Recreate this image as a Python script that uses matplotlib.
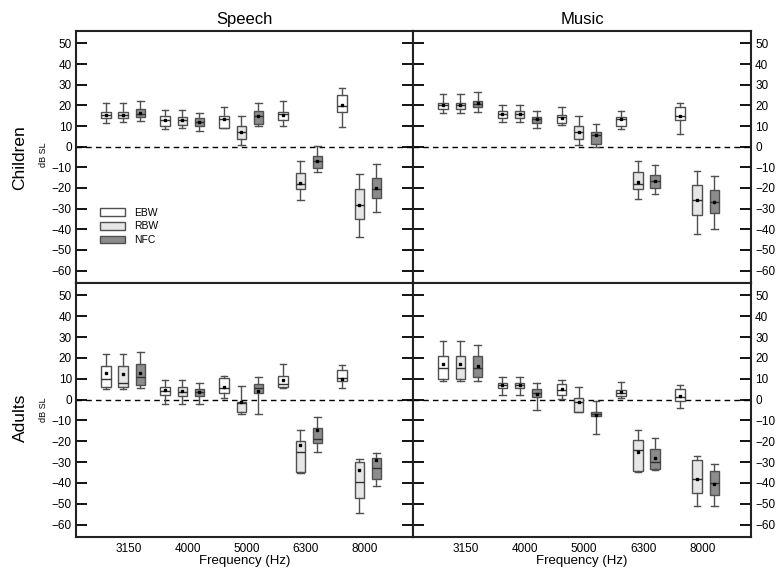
import matplotlib
matplotlib.use('Agg')
import matplotlib.pyplot as plt
from matplotlib.patches import Patch

plt.rcParams['font.family'] = ['Liberation Sans', 'DejaVu Sans']

frequencies = ['3150', '4000', '5000', '6300', '8000']
conditions = ['EBW', 'RBW', 'NFC']
box_colors = ['white', '#e6e6e6', '#8c8c8c']

# each row: whisker low, q1, median, q3, whisker high, mean
# order: for each frequency EBW, RBW, NFC
speech_children = [
    [11.5, 14.0, 15.5, 17.0, 21.0, 15.5],
    [12.0, 14.0, 15.5, 17.0, 21.0, 15.5],
    [12.5, 14.5, 16.0, 18.0, 22.0, 16.5],
    [8.7, 10.0, 13.0, 14.8, 17.7, 13.0],
    [9.0, 10.5, 13.0, 14.5, 17.7, 13.0],
    [7.5, 10.0, 12.0, 13.7, 16.5, 12.0],
    [9.2, 9.2, 13.5, 15.0, 19.0, 13.5],
    [1.0, 3.5, 7.0, 10.0, 15.0, 7.0],
    [10.1, 10.8, 15.0, 17.2, 21.0, 15.0],
    [10.0, 13.0, 16.0, 17.0, 22.0, 15.5],
    [-26.0, -20.3, -18.0, -12.6, -7.0, -17.5],
    [-12.5, -10.5, -7.0, -4.7, 0.5, -7.0],
    [9.5, 17.0, 19.5, 25.0, 28.5, 20.0],
    [-43.5, -35.0, -28.0, -20.5, -13.0, -28.0],
    [-31.5, -25.0, -20.5, -15.0, -8.5, -20.0],
]

speech_adults = [
    [5.0, 6.0, 10.0, 16.0, 22.0, 12.8],
    [5.0, 6.0, 8.0, 16.0, 22.0, 12.2],
    [5.5, 7.0, 11.0, 17.0, 23.0, 13.0],
    [-2.0, 2.2, 4.3, 6.2, 9.4, 4.5],
    [-2.0, 1.5, 3.8, 6.2, 9.4, 4.0],
    [-2.0, 1.5, 3.5, 5.0, 8.0, 3.5],
    [1.0, 3.0, 5.7, 10.2, 11.5, 6.0],
    [-6.7, -6.2, -1.5, -1.0, 6.7, -1.0],
    [-7.0, 3.4, 5.4, 7.3, 11.0, 4.0],
    [5.7, 5.9, 7.5, 11.5, 17.0, 9.5],
    [-35.4, -34.9, -25.0, -20.0, -14.5, -22.0],
    [-25.0, -21.0, -19.0, -13.6, -8.3, -14.5],
    [5.7, 9.0, 10.5, 14.4, 16.5, 9.7],
    [-54.5, -47.4, -39.5, -30.0, -28.4, -34.0],
    [-41.6, -38.0, -33.0, -28.0, -25.5, -29.0],
]

music_children = [
    [16.2, 18.3, 20.0, 21.2, 25.7, 20.0],
    [16.2, 18.3, 20.3, 21.2, 25.7, 20.3],
    [16.7, 19.0, 20.7, 22.2, 26.4, 21.0],
    [12.0, 13.8, 16.0, 17.5, 20.2, 16.0],
    [12.0, 13.8, 16.0, 17.5, 20.2, 16.0],
    [9.2, 11.6, 13.3, 14.6, 17.5, 13.3],
    [10.3, 11.6, 14.3, 15.1, 19.0, 14.0],
    [1.0, 3.8, 7.0, 10.0, 15.0, 7.0],
    [-0.3, 1.5, 5.5, 7.0, 10.8, 5.5],
    [8.7, 10.0, 13.5, 14.6, 17.5, 13.5],
    [-25.4, -20.3, -18.0, -12.4, -6.8, -17.0],
    [-23.0, -20.0, -16.5, -13.8, -9.0, -16.5],
    [6.3, 12.7, 15.0, 19.4, 21.0, 14.7],
    [-42.3, -33.0, -25.6, -18.7, -11.8, -26.0],
    [-40.0, -32.3, -26.7, -20.8, -14.2, -26.7],
]

music_adults = [
    [9.0, 10.0, 15.0, 20.7, 28.0, 17.0],
    [9.0, 10.0, 15.0, 20.7, 28.0, 17.0],
    [9.0, 11.0, 15.0, 20.7, 26.0, 16.3],
    [2.2, 5.4, 6.8, 8.1, 11.0, 7.0],
    [2.2, 5.4, 6.8, 8.1, 11.0, 7.0],
    [-4.8, 1.4, 3.0, 5.1, 8.0, 2.6],
    [0.2, 2.2, 4.6, 7.3, 9.4, 5.0],
    [-5.9, -5.9, -1.0, 0.6, 6.2, -1.0],
    [-16.7, -7.7, -6.8, -5.9, -0.9, -7.2],
    [0.6, 1.7, 3.3, 4.6, 8.6, 3.8],
    [-35.0, -34.1, -24.4, -19.6, -14.4, -25.0],
    [-33.6, -33.3, -30.0, -23.6, -18.5, -28.0],
    [-4.0, -0.6, 1.4, 4.9, 7.0, 1.5],
    [-51.0, -45.0, -38.0, -29.2, -27.0, -38.0],
    [-51.0, -46.0, -40.2, -34.4, -31.0, -40.5],
]

y_ticks = list(range(-60, 51, 10))

edge = '#505050'
offsets = [-0.29, 0.0, 0.29]


def draw_panel(ax, rows):
    stats = []
    positions = []
    for i, r in enumerate(rows):
        stats.append(dict(whislo=r[0], q1=r[1], med=r[2], q3=r[3],
                          whishi=r[4], mean=r[5], fliers=[]))
        positions.append(i // 3 + offsets[i % 3])
    bp = ax.bxp(stats, positions=positions, widths=0.16, capwidths=0.11,
                patch_artist=True, showmeans=True, showfliers=False,
                boxprops=dict(edgecolor=edge, linewidth=1.0),
                whiskerprops=dict(color=edge, linewidth=1.0),
                capprops=dict(color=edge, linewidth=1.0),
                medianprops=dict(color='#303030', linewidth=1.0),
                meanprops=dict(marker='s', markersize=1.7,
                               markerfacecolor='black',
                               markeredgecolor='black'))
    for i, patch in enumerate(bp['boxes']):
        patch.set_facecolor(box_colors[i % 3])
    ax.axhline(0, color='black', linestyle=(0, (4, 3)), linewidth=1.0,
               zorder=0)
    ax.set_xlim(-0.8, 4.91)
    ax.set_ylim(-66, 56)
    ax.set_yticks(y_ticks)
    ax.tick_params(axis='y', direction='in', length=8, width=1.3,
                   left=True, right=True, labelsize=8.5, pad=3)
    for s in ax.spines.values():
        s.set_linewidth(1.5)
        s.set_color('#222222')


fig = plt.figure(figsize=(7.76, 5.68), dpi=100)
x0, xm, x1 = 76 / 776, 413 / 776, 751 / 776
yb, ym, yt = 1 - 537 / 568, 1 - 283 / 568, 1 - 31 / 568
w1, w2 = xm - x0, x1 - xm
h1, h2 = yt - ym, ym - yb

ax_sc = fig.add_axes([x0, ym, w1, h1])
ax_mc = fig.add_axes([xm, ym, w2, h1])
ax_sa = fig.add_axes([x0, yb, w1, h2])
ax_ma = fig.add_axes([xm, yb, w2, h2])

for ax, rows in [(ax_sc, speech_children), (ax_mc, music_children),
                 (ax_sa, speech_adults), (ax_ma, music_adults)]:
    draw_panel(ax, rows)

for ax in (ax_mc, ax_ma):
    ax.tick_params(axis='y', labelleft=False, labelright=True)

for ax in (ax_sc, ax_mc):
    ax.set_xticks([])

for ax in (ax_sa, ax_ma):
    ax.set_xticks([k + 0.09 for k in range(len(frequencies))])
    ax.set_xticklabels(frequencies)
    ax.tick_params(axis='x', length=0, labelsize=8.5, pad=4)
    ax.set_xlabel('Frequency (Hz)', fontsize=9.5, labelpad=0)

ax_sc.set_title('Speech', fontsize=12, pad=5)
ax_mc.set_title('Music', fontsize=12, pad=5)

fig.text(20 / 776, 1 - 158 / 568, 'Children', rotation=90, fontsize=12.5,
         ha='center', va='center')
fig.text(20 / 776, 1 - 418 / 568, 'Adults', rotation=90, fontsize=12.5,
         ha='center', va='center')
fig.text(43 / 776, 1 - 155 / 568, 'dB SL', rotation=90, fontsize=6.5,
         ha='center', va='center')
fig.text(43 / 776, 1 - 410 / 568, 'dB SL', rotation=90, fontsize=6.5,
         ha='center', va='center')

handles = [Patch(facecolor=c, edgecolor=edge, linewidth=1.0)
           for c in box_colors]
ax_sc.legend(handles, conditions, loc='upper left',
             bbox_to_anchor=(0.06, 0.315), frameon=False, fontsize=7.5,
             handlelength=2.4, handleheight=0.75, labelspacing=0.35,
             handletextpad=0.8, borderaxespad=0)

fig.savefig('out.png', dpi=100)
